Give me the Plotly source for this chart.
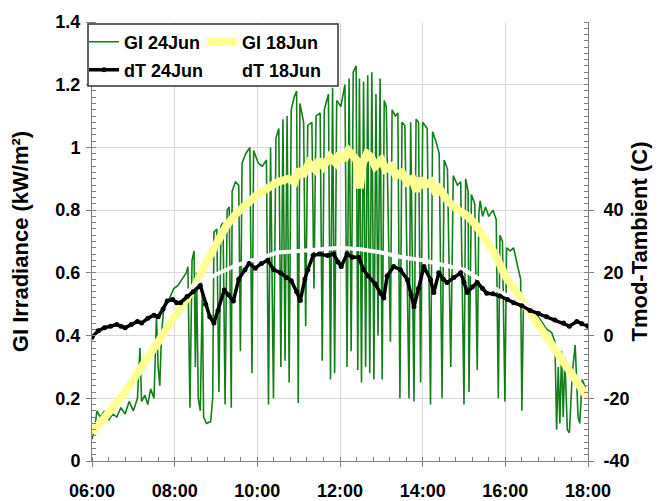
import plotly.graph_objects as go

# ---------------- data (hours of day, GI in kW/m2, dT in C) ----------------
gi24_t = [6.00, 6.06, 6.12, 6.20, 6.30, 6.40, 6.50, 6.60, 6.70, 6.80, 6.90, 7.00, 7.10, 7.16, 7.20,
          7.28, 7.35, 7.42, 7.50, 7.56, 7.60, 7.64, 7.68, 7.73, 7.78, 7.88, 7.98, 8.08, 8.18, 8.28,
          8.32, 8.37, 8.42, 8.47, 8.50, 8.53, 8.57, 8.62, 8.67, 8.70, 8.77, 8.87, 8.92, 8.95, 9.02,
          9.07, 9.12, 9.17, 9.22, 9.27, 9.32, 9.37, 9.39, 9.47, 9.55, 9.59, 9.63, 9.72, 9.82, 9.87,
          9.91, 10.02, 10.12, 10.22, 10.27, 10.32, 10.39, 10.45, 10.52, 10.57, 10.62, 10.67, 10.72,
          10.77, 10.82, 10.89, 10.95, 10.99, 11.03, 11.12, 11.17, 11.22, 11.32, 11.37, 11.42, 11.52,
          11.57, 11.62, 11.72, 11.77, 11.82, 11.87, 11.92, 12.02, 12.12, 12.17, 12.22, 12.27, 12.32,
          12.39, 12.43, 12.47, 12.52, 12.57, 12.62, 12.67, 12.72, 12.77, 12.82, 12.87, 12.92, 12.97,
          13.02, 13.07, 13.12, 13.22, 13.26, 13.34, 13.40, 13.45, 13.50, 13.57, 13.67, 13.71, 13.79,
          13.84, 13.90, 13.95, 14.00, 14.11, 14.19, 14.24, 14.32, 14.40, 14.47, 14.52, 14.60, 14.68,
          14.74, 14.84, 14.92, 15.00, 15.04, 15.10, 15.12, 15.18, 15.26, 15.32, 15.36, 15.39, 15.45,
          15.52, 15.60, 15.70, 15.78, 15.83, 15.87, 15.93, 15.99, 16.03, 16.12, 16.20, 16.30, 16.37,
          16.40, 16.44, 16.55, 16.70, 16.85, 17.00, 17.12, 17.20, 17.24, 17.28, 17.32, 17.36, 17.40,
          17.44, 17.50, 17.55, 17.62, 17.69, 17.76, 17.80, 17.86, 17.92, 18.00]
gi24_v = [0.07, 0.10, 0.16, 0.14, 0.16, 0.13, 0.15, 0.14, 0.17, 0.15, 0.19, 0.16, 0.20, 0.36, 0.19,
          0.21, 0.18, 0.23, 0.20, 0.46, 0.30, 0.24, 0.40, 0.48, 0.50, 0.52, 0.55, 0.56, 0.58, 0.60,
          0.62, 0.17, 0.64, 0.67, 0.30, 0.60, 0.20, 0.16, 0.55, 0.14, 0.12, 0.125, 0.20, 0.73, 0.74,
          0.22, 0.75, 0.76, 0.18, 0.80, 0.81, 0.17, 0.86, 0.89, 0.88, 0.35, 0.95, 0.98, 1.00, 0.28,
          0.99, 0.95, 0.94, 0.96, 0.18, 1.00, 0.20, 1.03, 1.06, 0.30, 1.09, 0.32, 1.10,
          0.25, 1.12, 1.16, 1.18, 0.185, 1.14, 1.08, 0.43, 1.07, 1.08, 0.55, 1.10, 1.11,
          0.32, 1.12, 1.17, 0.26, 1.19, 0.28, 1.15, 1.13, 1.20, 0.30, 1.22, 0.35, 1.24,
          1.26, 0.29, 1.22, 0.25, 1.21, 0.30, 1.23, 0.28, 1.24, 0.26, 1.17, 0.40, 1.22,
          0.26, 1.15, 1.13, 0.38, 1.12, 1.10, 1.11, 0.20, 1.08, 1.07, 0.20, 1.08, 0.19,
          1.09, 1.08, 0.25, 1.08, 1.06, 0.18, 1.05, 1.02, 0.98, 0.20, 0.96, 0.93, 0.30,
          0.91, 0.88, 0.89, 0.18, 0.90, 0.86, 0.22, 0.85, 0.82, 0.29, 0.79, 0.83, 0.78,
          0.81, 0.78, 0.80, 0.77, 0.20, 0.72, 0.70, 0.19, 0.68, 0.67, 0.68, 0.62, 0.58,
          0.16, 0.52, 0.50, 0.48, 0.45, 0.42, 0.41, 0.38, 0.10, 0.30, 0.12, 0.35, 0.14,
          0.33, 0.10, 0.09, 0.28, 0.37, 0.14, 0.12, 0.26, 0.24, 0.20]

gi18_t = [6.00, 6.25, 6.50, 6.75, 7.00, 7.25, 7.50, 7.75, 8.00, 8.25, 8.50, 8.75, 9.00, 9.25, 9.50,
          9.75, 10.00, 10.25, 10.50, 10.75, 10.90, 11.00, 11.10, 11.25, 11.40, 11.50, 11.60, 11.75,
          11.90, 12.00, 12.10, 12.20, 12.30, 12.40, 12.48, 12.55, 12.65, 12.75, 12.85, 13.00, 13.10,
          13.25, 13.35, 13.50, 13.62, 13.75, 13.85, 13.95, 14.05, 14.20, 14.30, 14.40, 14.60, 14.85,
          15.10, 15.30, 15.50, 15.75, 16.00, 16.25, 16.50, 16.75, 17.00, 17.25, 17.50, 17.75, 18.00]
gi18_v = [0.09, 0.13, 0.165, 0.21, 0.26, 0.31, 0.36, 0.41, 0.45, 0.50, 0.56, 0.63, 0.69, 0.75, 0.79,
          0.82, 0.85, 0.87, 0.89, 0.90, 0.89, 0.93, 0.91, 0.95, 0.93, 0.96, 0.94, 0.97,
          0.95, 0.98, 0.96, 0.99, 0.97, 0.96, 0.87, 0.95, 0.98, 0.97, 0.94, 0.96, 0.93,
          0.94, 0.91, 0.92, 0.89, 0.90, 0.86, 0.90, 0.88, 0.89, 0.86, 0.87, 0.83, 0.80,
          0.78, 0.75, 0.71, 0.66, 0.59, 0.54, 0.49, 0.44, 0.39, 0.34, 0.29, 0.24, 0.20]

dt24_t = [6.00, 6.15, 6.30, 6.45, 6.60, 6.70, 6.80, 6.95, 7.10, 7.20, 7.35, 7.50, 7.60, 7.72, 7.82,
          7.95, 8.05, 8.14, 8.30, 8.45, 8.62, 8.75, 8.85, 8.95, 9.05, 9.20, 9.30, 9.42, 9.55, 9.70,
          9.80, 9.95, 10.10, 10.25, 10.40, 10.56, 10.70, 10.82, 10.95, 11.04, 11.15, 11.22, 11.35,
          11.50, 11.70, 11.85, 11.95, 12.03, 12.17, 12.30, 12.45, 12.57, 12.68, 12.85, 12.98, 13.06,
          13.14, 13.30, 13.46, 13.63, 13.72, 13.79, 13.90, 14.03, 14.19, 14.27, 14.39, 14.50, 14.59,
          14.75, 14.92, 15.00, 15.08, 15.20, 15.32, 15.45, 15.55, 15.70, 15.87, 16.05, 16.20, 16.40,
          16.60, 16.80, 17.00, 17.20, 17.41, 17.55, 17.73, 17.85, 18.00]
dt24_v = [-0.5, 1.5, 2.5, 3.0, 3.5, 3.0, 2.5, 3.5, 4.5, 4.0, 5.5, 6.5, 6.0, 8.5, 11.0,
          11.5, 10.5, 10.5, 12.5, 14.0, 16.0, 10.0, 6.0, 4.0, 8.0, 14.5, 13.0, 11.0, 18.0, 21.0,
          23.0, 21.5, 23.0, 24.0, 21.0, 20.0, 18.5, 17.5, 14.0, 11.2, 18.0, 21.0, 25.5,
          26.0, 25.5, 26.0, 23.5, 22.0, 26.0, 25.0, 25.0, 21.0, 19.0, 16.5, 13.5, 12.0,
          19.0, 22.0, 21.0, 17.8, 13.0, 9.2, 15.0, 22.0, 17.8, 13.7, 20.0, 18.0, 16.9,
          18.5, 20.0, 17.0, 13.7, 15.5, 16.9, 15.0, 13.5, 13.3, 12.6, 11.5, 10.5, 9.5,
          8.0, 7.0, 6.0, 5.0, 4.0, 3.0, 4.5, 3.8, 3.0]

dt18_t = [6.00, 6.50, 7.00, 7.50, 8.00, 8.50, 9.00, 9.50, 10.00, 10.50, 11.00, 11.50, 12.00, 12.50,
          13.00, 13.50, 14.00, 14.50, 15.00, 15.50, 16.00, 16.50, 17.00, 17.50, 18.00]
dt18_v = [0.0, 2.5, 4.0, 7.0, 11.0, 16.0, 19.5, 22.5, 24.5, 26.5, 27.0, 27.5, 28.0, 27.5,
          26.5, 25.0, 24.0, 22.5, 21.0, 17.0, 13.0, 9.5, 7.0, 5.0, 3.5]

x_tickvals = [6, 8, 10, 12, 14, 16, 18]
x_ticktext = ["06:00", "08:00", "10:00", "12:00", "14:00", "16:00", "18:00"]
y_tickvals = [0, 0.2, 0.4, 0.6, 0.8, 1.0, 1.2, 1.4]
y_ticktext = ["0", "0.2", "0.4", "0.6", "0.8", "1", "1.2", "1.4"]
y2_tickvals = [-40, -20, 0, 20, 40]
y2_ticktext = ["-40", "-20", "0", "20", "40"]

FONT = "Liberation Sans, Arial, sans-serif"
AX = "#808080"

fig = go.Figure()
fig.add_trace(go.Scatter(x=gi24_t, y=gi24_v, mode="lines", name="GI 24Jun",
                         line=dict(color="#127f18", width=1.6), legend="legend"))
fig.add_trace(go.Scatter(x=gi18_t, y=gi18_v, mode="lines", name="GI 18Jun",
                         line=dict(color="#ffff94", width=8), legend="legend2"))
fig.add_trace(go.Scatter(x=dt18_t, y=dt18_v, mode="lines", name="dT 18Jun", yaxis="y2",
                         line=dict(color="#ffffff", width=4), legend="legend4"))
fig.add_trace(go.Scatter(x=dt24_t, y=dt24_v, mode="lines+markers", name="dT 24Jun", yaxis="y2",
                         line=dict(color="#000000", width=3.5),
                         marker=dict(color="#000000", size=5), legend="legend3"))

tickfont = dict(family=FONT, size=18, color="black", weight="bold")
titlefont = dict(family=FONT, size=22, color="black", weight="bold")

W, H = 666, 501
ML, MR, MT, MB = 92, 78, 22, 40
PW, PH = W - ML - MR, H - MT - MB


def px_x(p):
    return (p - ML) / PW


def px_y(p):
    return 1 - (p - MT) / PH


legfont = dict(family=FONT, size=18, color="black", weight="bold")
common_leg = dict(bgcolor="rgba(0,0,0,0)", borderwidth=0, font=legfont,
                  xanchor="left", yanchor="middle", itemclick=False, itemdoubleclick=False)

fig.update_layout(
    width=W, height=H,
    margin=dict(l=ML, r=MR, t=MT, b=MB, autoexpand=False),
    paper_bgcolor="white", plot_bgcolor="white",
    font=dict(family=FONT),
    xaxis=dict(range=[6, 18], tickmode="array", tickvals=x_tickvals, ticktext=x_ticktext,
               showgrid=True, gridcolor="#d9d9d9", gridwidth=1, zeroline=False,
               showline=True, linecolor=AX, linewidth=1,
               ticks="outside", ticklen=5, tickcolor=AX, tickfont=tickfont, ticklabelstandoff=8,
               minor=dict(ticks="inside", ticklen=4, tickcolor=AX, dtick=0.4, tick0=6, showgrid=False)),
    yaxis=dict(range=[0, 1.4], tickmode="array", tickvals=y_tickvals, ticktext=y_ticktext,
               showgrid=True, gridcolor="#d9d9d9", gridwidth=1, zeroline=False,
               showline=True, linecolor=AX, linewidth=1,
               ticks="outside", ticklen=5, tickcolor=AX, tickfont=tickfont, ticklabelstandoff=2,
               title=dict(text="GI Irradiance (kW/m²)", font=titlefont, standoff=20),
               minor=dict(ticks="inside", ticklen=4, tickcolor=AX, dtick=0.02, tick0=0, showgrid=False)),
    yaxis2=dict(range=[-40, 100], overlaying="y", side="right", tickmode="array",
                tickvals=y2_tickvals, ticktext=y2_ticktext, showgrid=False, zeroline=False,
                showline=True, linecolor=AX, linewidth=1,
                ticks="outside", ticklen=5, tickcolor=AX, tickfont=tickfont, ticklabelstandoff=6,
                title=dict(text="Tmod-Tambient (C)", font=titlefont, standoff=2),
                minor=dict(ticks="inside", ticklen=4, tickcolor=AX, dtick=2, tick0=-40, showgrid=False)),
    legend=dict(x=px_x(84), y=px_y(42), **common_leg),
    legend2=dict(x=px_x(202), y=px_y(42), **common_leg),
    legend3=dict(x=px_x(84), y=px_y(70), **common_leg),
    legend4=dict(x=px_x(202), y=px_y(70), **common_leg),
    shapes=[dict(type="rect", xref="paper", yref="paper",
                 x0=px_x(88), x1=px_x(338), y0=px_y(86), y1=px_y(24),
                 fillcolor="white", line=dict(color="#333333", width=1.5), layer="above")],
    showlegend=True,
)

fig.write_html("out.html")
